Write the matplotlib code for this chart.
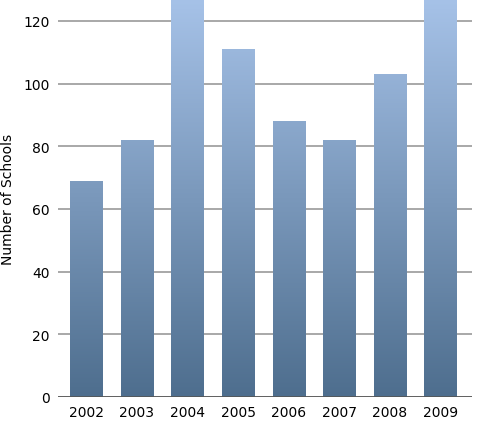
import matplotlib.pyplot as plt
import numpy as np
from matplotlib.colors import LinearSegmentedColormap

years = ["2002", "2003", "2004", "2005", "2006", "2007", "2008", "2009"]
schools = [69, 82, 140, 111, 88, 82, 103, 135]

fig = plt.figure(figsize=(4.84, 4.31), dpi=100)
ax = fig.add_axes([58 / 484, 33 / 431, 414 / 484, 398 / 431])

ymax = 127
x = np.arange(len(years))
bars = ax.bar(x, schools, width=0.64, color="none", zorder=3)

cmap = LinearSegmentedColormap.from_list("g", ["#4e6e8e", "#a6c2e8"])
grad = np.linspace(0, 1, 256).reshape(-1, 1)
for b in bars:
    im = ax.imshow(grad, cmap=cmap, origin="lower", aspect="auto",
                   extent=(b.get_x(), b.get_x() + b.get_width(), 0, ymax), zorder=3)
    im.set_clip_path(b)

ax.set_xlim(-0.56, 7.62)
ax.set_ylim(0, ymax)
ax.set_yticks(range(0, 121, 20))
ax.set_xticks(x, years)
ax.grid(axis="y", color="#9a9a9a", linewidth=1.2, zorder=1)
for s in ax.spines.values():
    s.set_visible(False)
ax.axhline(0, color="#555555", linewidth=1.2, zorder=4)
ax.tick_params(length=0, labelsize=10, pad=6)
ax.set_ylabel("Number of Schools", fontsize=10, labelpad=6)

fig.savefig("out.png", dpi=100)
